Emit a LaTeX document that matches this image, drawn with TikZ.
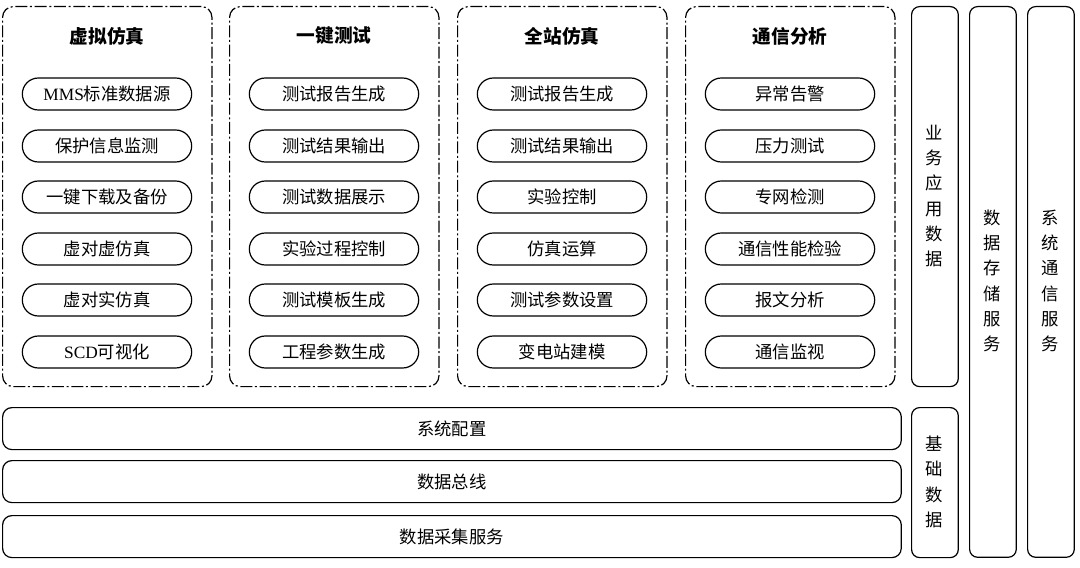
\documentclass[tikz,border=0pt]{standalone}
\usepackage{fontspec}
\setmainfont{Liberation Serif}
\newfontfamily\cjk{Noto Sans CJK SC}
\begin{document}
\begin{tikzpicture}[x=0.75pt,y=-0.75pt,
 grp/.style={draw,line width=0.9pt,rounded corners=8pt,dash pattern=on 9pt off 2pt on 1.5pt off 2pt},
 pill/.style={draw,line width=0.9pt,rounded corners=12pt,minimum width=127pt,minimum height=24pt,inner sep=0pt,font=\cjk\fontsize{13}{15}\selectfont},
 bar/.style={draw,line width=0.9pt,rounded corners=7pt,inner sep=0pt,font=\cjk\fontsize{13}{15}\selectfont},
 ttl/.style={font=\cjk\bfseries\fontsize{14}{16}\selectfont},
 vbox/.style={draw,line width=0.9pt,rounded corners=6pt,inner sep=0pt,align=center,font=\cjk\fontsize{13}{19}\selectfont}]
\useasboundingbox (0,0) rectangle (1080,567);
\def\grpdef#1#2#3#4#5#6#7#8#9{}
\foreach \n/\x/\t/\a/\b/\c/\d/\e/\f in {
 g1/2/虚拟仿真/{\rmfamily MMS}标准数据源/保护信息监测/一键下载及备份/虚对虚仿真/虚对实仿真/{\rmfamily SCD}可视化,
 g2/229/一键测试/测试报告生成/测试结果输出/测试数据展示/实验过程控制/测试模板生成/工程参数生成,
 g3/457/全站仿真/测试报告生成/测试结果输出/实验控制/仿真运算/测试参数设置/变电站建模,
 g4/685/通信分析/异常告警/压力测试/专网检测/通信性能检验/报文分析/通信监视}{
 \node[grp,minimum width=157pt,minimum height=285pt,anchor=north west] (\n) at (\x,6) {};
 \node[ttl] (\n t) at (\x+105,36) {\t};
 \node[pill] (\n p1) at (\x+105,94) {\a};
 \node[pill] (\n p2) at (\x+105,146) {\b};
 \node[pill] (\n p3) at (\x+105,197) {\c};
 \node[pill] (\n p4) at (\x+105,249) {\d};
 \node[pill] (\n p5) at (\x+105,300) {\e};
 \node[pill] (\n p6) at (\x+105,352) {\f};
}
\node[bar,minimum width=674pt,minimum height=31.5pt,anchor=north west] (b1) at (2,407) {系统配置};
\node[bar,minimum width=674pt,minimum height=31.5pt,anchor=north west] (b2) at (2,460) {数据总线};
\node[bar,minimum width=674pt,minimum height=31.5pt,anchor=north west] (b3) at (2,515) {数据采集服务};
\node[vbox,minimum width=35pt,minimum height=285pt,anchor=north west] (v1) at (911,6) {};
\node[font=\cjk\fontsize{13}{19}\selectfont,align=center] (v1t) at (934.5,196) {业\\务\\应\\用\\数\\据};
\node[vbox,minimum width=35pt,minimum height=112.5pt,anchor=north west] (v2) at (911,407) {};
\node[font=\cjk\fontsize{13}{19}\selectfont,align=center] (v2t) at (934.5,482) {基\\础\\数\\据};
\node[vbox,minimum width=35pt,minimum height=413pt,anchor=north west] (v3) at (969,6) {};
\node[font=\cjk\fontsize{13}{19}\selectfont,align=center] (v3t) at (992.5,281) {数\\据\\存\\储\\服\\务};
\node[vbox,minimum width=35pt,minimum height=413pt,anchor=north west] (v4) at (1027,6) {};
\node[font=\cjk\fontsize{13}{19}\selectfont,align=center] (v4t) at (1050.5,281) {系\\统\\通\\信\\服\\务};
\end{tikzpicture}
\end{document}
